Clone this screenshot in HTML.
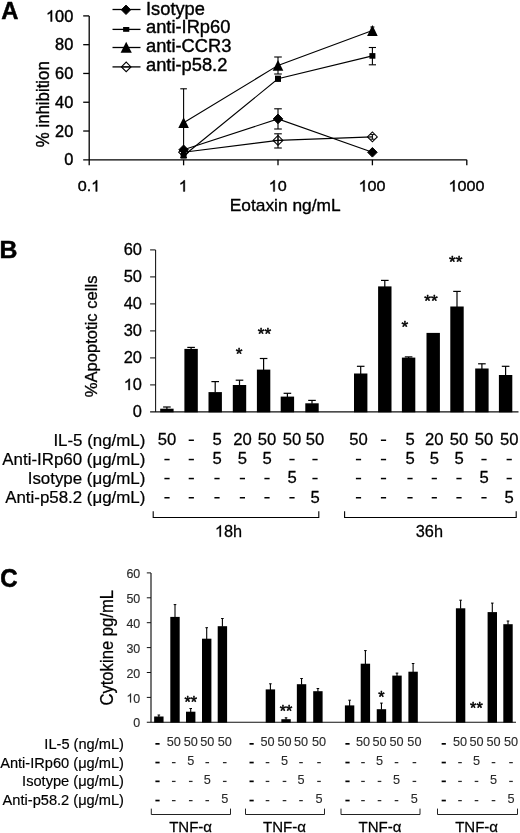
<!DOCTYPE html>
<html>
<head>
<meta charset="utf-8">
<title>Figure</title>
<style>
html, body { margin: 0; padding: 0; background: #ffffff; }
body { width: 520px; height: 833px; overflow: hidden; font-family: 'Liberation Sans', sans-serif; }
svg { display: block; will-change: transform; }
svg text { font-family: "Liberation Sans", sans-serif; }
</style>
</head>
<body>
<svg width="520" height="833" viewBox="0 0 520 833">
<rect x="0" y="0" width="520" height="833" fill="#ffffff"/>
<text transform="translate(1.15,19.35) scale(0.975,1)" font-size="24.4" text-anchor="start" font-weight="bold" fill="#000" stroke="#000" stroke-width="0.5" stroke-linejoin="round" >A</text>
<line x1="89.2" y1="15.9" x2="89.2" y2="165.3" stroke="#000" stroke-width="1.3" />
<line x1="83.2" y1="159.8" x2="466.8" y2="159.8" stroke="#000" stroke-width="1.3" />
<line x1="83.2" y1="131.02" x2="89.2" y2="131.02" stroke="#000" stroke-width="1.3" />
<line x1="83.2" y1="102.24" x2="89.2" y2="102.24" stroke="#000" stroke-width="1.3" />
<line x1="83.2" y1="73.46" x2="89.2" y2="73.46" stroke="#000" stroke-width="1.3" />
<line x1="83.2" y1="44.68" x2="89.2" y2="44.68" stroke="#000" stroke-width="1.3" />
<line x1="83.2" y1="15.9" x2="89.2" y2="15.9" stroke="#000" stroke-width="1.3" />
<line x1="183.6" y1="159.8" x2="183.6" y2="165.3" stroke="#000" stroke-width="1.3" />
<line x1="278.0" y1="159.8" x2="278.0" y2="165.3" stroke="#000" stroke-width="1.3" />
<line x1="372.4" y1="159.8" x2="372.4" y2="165.3" stroke="#000" stroke-width="1.3" />
<line x1="466.8" y1="159.8" x2="466.8" y2="165.3" stroke="#000" stroke-width="1.3" />
<text transform="translate(73.3,165.4) scale(1.05,1)" font-size="15.6" text-anchor="end" font-weight="normal" fill="#000" stroke="#000" stroke-width="0.4" stroke-linejoin="round" >0</text>
<text transform="translate(73.3,136.62) scale(1.05,1)" font-size="15.6" text-anchor="end" font-weight="normal" fill="#000" stroke="#000" stroke-width="0.4" stroke-linejoin="round" >20</text>
<text transform="translate(73.3,107.83999999999999) scale(1.05,1)" font-size="15.6" text-anchor="end" font-weight="normal" fill="#000" stroke="#000" stroke-width="0.4" stroke-linejoin="round" >40</text>
<text transform="translate(73.3,79.05999999999999) scale(1.05,1)" font-size="15.6" text-anchor="end" font-weight="normal" fill="#000" stroke="#000" stroke-width="0.4" stroke-linejoin="round" >60</text>
<text transform="translate(73.3,50.28) scale(1.05,1)" font-size="15.6" text-anchor="end" font-weight="normal" fill="#000" stroke="#000" stroke-width="0.4" stroke-linejoin="round" >80</text>
<path transform="translate(45.98,21.5) scale(0.007998,-0.007617)" d="M763 0H583V1147Q518 1085 412.5 1023Q307 961 223 930V1104Q374 1175 487 1276Q600 1377 647 1472H763Z" fill="#000" stroke="#000" stroke-width="52.5" stroke-linejoin="round"/>
<text transform="translate(55.09,21.5) scale(1.05,1)" font-size="15.6" text-anchor="start" font-weight="normal" fill="#000" stroke="#000" stroke-width="0.4" stroke-linejoin="round" >00</text>
<text transform="translate(77.66,191.4) scale(1.05,1)" font-size="15.4" text-anchor="start" font-weight="normal" fill="#000" stroke="#000" stroke-width="0.4" stroke-linejoin="round" >0.</text>
<path transform="translate(91.15,191.4) scale(0.007896,-0.00752)" d="M763 0H583V1147Q518 1085 412.5 1023Q307 961 223 930V1104Q374 1175 487 1276Q600 1377 647 1472H763Z" fill="#000" stroke="#000" stroke-width="53.2" stroke-linejoin="round"/>
<path transform="translate(178.8,191.4) scale(0.007896,-0.00752)" d="M763 0H583V1147Q518 1085 412.5 1023Q307 961 223 930V1104Q374 1175 487 1276Q600 1377 647 1472H763Z" fill="#000" stroke="#000" stroke-width="53.2" stroke-linejoin="round"/>
<path transform="translate(268.71,191.4) scale(0.007896,-0.00752)" d="M763 0H583V1147Q518 1085 412.5 1023Q307 961 223 930V1104Q374 1175 487 1276Q600 1377 647 1472H763Z" fill="#000" stroke="#000" stroke-width="53.2" stroke-linejoin="round"/>
<text transform="translate(277.7,191.4) scale(1.05,1)" font-size="15.4" text-anchor="start" font-weight="normal" fill="#000" stroke="#000" stroke-width="0.4" stroke-linejoin="round" >0</text>
<path transform="translate(358.61,191.4) scale(0.007896,-0.00752)" d="M763 0H583V1147Q518 1085 412.5 1023Q307 961 223 930V1104Q374 1175 487 1276Q600 1377 647 1472H763Z" fill="#000" stroke="#000" stroke-width="53.2" stroke-linejoin="round"/>
<text transform="translate(367.6,191.4) scale(1.05,1)" font-size="15.4" text-anchor="start" font-weight="normal" fill="#000" stroke="#000" stroke-width="0.4" stroke-linejoin="round" >00</text>
<path transform="translate(448.52,191.4) scale(0.007896,-0.00752)" d="M763 0H583V1147Q518 1085 412.5 1023Q307 961 223 930V1104Q374 1175 487 1276Q600 1377 647 1472H763Z" fill="#000" stroke="#000" stroke-width="53.2" stroke-linejoin="round"/>
<text transform="translate(457.51,191.4) scale(1.05,1)" font-size="15.4" text-anchor="start" font-weight="normal" fill="#000" stroke="#000" stroke-width="0.4" stroke-linejoin="round" >000</text>
<text transform="translate(285.2,211.2) scale(1.02,1)" font-size="17" text-anchor="middle" font-weight="normal" fill="#000" stroke="#000" stroke-width="0.35" stroke-linejoin="round" >Eotaxin ng/mL</text>
<text transform="translate(48.8,104.2) rotate(-90) scale(1,1.06)" font-size="16.8" text-anchor="middle" fill="#000" stroke="#000" stroke-width="0.35" stroke-linejoin="round">% inhibition</text>
<line x1="112.5" y1="9.5" x2="140.5" y2="9.5" stroke="#000" stroke-width="1.3" />
<text x="146.0" y="14.6" font-size="18.3" text-anchor="start" font-weight="normal" fill="#000" stroke="#000" stroke-width="0.4" stroke-linejoin="round" >Isotype</text>
<line x1="112.5" y1="29.4" x2="140.5" y2="29.4" stroke="#000" stroke-width="1.3" />
<text x="146.0" y="33.4" font-size="18.3" text-anchor="start" font-weight="normal" fill="#000" stroke="#000" stroke-width="0.4" stroke-linejoin="round" >anti-IRp60</text>
<line x1="112.5" y1="47.5" x2="140.5" y2="47.5" stroke="#000" stroke-width="1.3" />
<text x="146.0" y="52.3" font-size="18.3" text-anchor="start" font-weight="normal" fill="#000" stroke="#000" stroke-width="0.4" stroke-linejoin="round" >anti-CCR3</text>
<line x1="112.5" y1="66.9" x2="140.5" y2="66.9" stroke="#000" stroke-width="1.3" />
<text x="146.0" y="71.0" font-size="18.3" text-anchor="start" font-weight="normal" fill="#000" stroke="#000" stroke-width="0.4" stroke-linejoin="round" >anti-p58.2</text>
<polygon points="121.3,9.8 126.0,5.1000000000000005 130.7,9.8 126.0,14.5" fill="#000" stroke="#000" stroke-width="1"/>
<rect x="123.10000000000001" y="27.0" width="6.2" height="4.8" fill="#000"/>
<polygon points="120.60000000000001,52.8 131.8,52.8 126.2,41.8" fill="#000"/>
<polygon points="121.4,66.9 126.2,62.10000000000001 131.0,66.9 126.2,71.7" fill="none" stroke="#000" stroke-width="1.05"/>
<line x1="121.7" y1="66.9" x2="130.7" y2="66.9" stroke="#000" stroke-width="1.0" />
<line x1="183.6" y1="88.8" x2="183.6" y2="157.5" stroke="#000" stroke-width="1.1" />
<line x1="180.29999999999998" y1="88.8" x2="186.9" y2="88.8" stroke="#000" stroke-width="1.1" />
<line x1="180.29999999999998" y1="157.5" x2="186.9" y2="157.5" stroke="#000" stroke-width="1.1" />
<line x1="278.0" y1="57.0" x2="278.0" y2="74.0" stroke="#000" stroke-width="1.1" />
<line x1="274.2" y1="57.0" x2="281.8" y2="57.0" stroke="#000" stroke-width="1.1" />
<line x1="274.2" y1="74.0" x2="281.8" y2="74.0" stroke="#000" stroke-width="1.1" />
<line x1="278.0" y1="76.2" x2="278.0" y2="81.2" stroke="#000" stroke-width="1.1" />
<line x1="275.0" y1="76.2" x2="281.0" y2="76.2" stroke="#000" stroke-width="1.1" />
<line x1="275.0" y1="81.2" x2="281.0" y2="81.2" stroke="#000" stroke-width="1.1" />
<line x1="372.4" y1="47.5" x2="372.4" y2="64.8" stroke="#000" stroke-width="1.1" />
<line x1="368.79999999999995" y1="47.5" x2="376.0" y2="47.5" stroke="#000" stroke-width="1.1" />
<line x1="368.79999999999995" y1="64.8" x2="376.0" y2="64.8" stroke="#000" stroke-width="1.1" />
<line x1="278.0" y1="108.8" x2="278.0" y2="129.0" stroke="#000" stroke-width="1.1" />
<line x1="274.2" y1="108.8" x2="281.8" y2="108.8" stroke="#000" stroke-width="1.1" />
<line x1="274.2" y1="129.0" x2="281.8" y2="129.0" stroke="#000" stroke-width="1.1" />
<line x1="278.0" y1="133.8" x2="278.0" y2="148.0" stroke="#000" stroke-width="1.1" />
<line x1="274.2" y1="133.8" x2="281.8" y2="133.8" stroke="#000" stroke-width="1.1" />
<line x1="274.2" y1="148.0" x2="281.8" y2="148.0" stroke="#000" stroke-width="1.1" />
<line x1="372.4" y1="27.0" x2="372.4" y2="34.0" stroke="#000" stroke-width="1.1" />
<line x1="370.4" y1="27.0" x2="374.4" y2="27.0" stroke="#000" stroke-width="1.1" />
<line x1="370.4" y1="34.0" x2="374.4" y2="34.0" stroke="#000" stroke-width="1.1" />
<polyline points="183.6,122.8 278.0,65.4 372.4,30.6" fill="none" stroke="#000" stroke-width="1.1"/>
<polyline points="183.6,155.8 278.0,78.8 372.4,55.9" fill="none" stroke="#000" stroke-width="1.1"/>
<polyline points="183.6,149.8 278.0,118.9 372.4,152.3" fill="none" stroke="#000" stroke-width="1.1"/>
<polyline points="183.6,152.2 278.0,140.4 372.4,136.9" fill="none" stroke="#000" stroke-width="1.1"/>
<polygon points="178.7,152.2 183.6,147.29999999999998 188.5,152.2 183.6,157.1" fill="none" stroke="#000" stroke-width="1.05"/>
<polygon points="273.1,140.4 278.0,135.5 282.9,140.4 278.0,145.3" fill="none" stroke="#000" stroke-width="1.05"/>
<polygon points="367.5,136.9 372.4,132.0 377.29999999999995,136.9 372.4,141.8" fill="none" stroke="#000" stroke-width="1.05"/>
<line x1="370.2" y1="134.6" x2="374.59999999999997" y2="134.6" stroke="#000" stroke-width="1.0" />
<line x1="370.2" y1="139.2" x2="374.59999999999997" y2="139.2" stroke="#000" stroke-width="1.0" />
<line x1="372.4" y1="134.6" x2="372.4" y2="139.2" stroke="#000" stroke-width="1.0" />
<line x1="278.0" y1="135.6" x2="278.0" y2="145.2" stroke="#000" stroke-width="1.0" />
<line x1="273.5" y1="140.4" x2="282.5" y2="140.4" stroke="#000" stroke-width="1.0" />
<polygon points="178.79999999999998,149.8 183.6,145.0 188.4,149.8 183.6,154.60000000000002" fill="#000" stroke="#000" stroke-width="1"/>
<polygon points="273.2,118.9 278.0,114.10000000000001 282.8,118.9 278.0,123.7" fill="#000" stroke="#000" stroke-width="1"/>
<polygon points="367.59999999999997,152.3 372.4,147.5 377.2,152.3 372.4,157.10000000000002" fill="#000" stroke="#000" stroke-width="1"/>
<rect x="180.6" y="153.0" width="6.0" height="5.6" fill="#000"/>
<rect x="275.0" y="76.0" width="6.0" height="5.6" fill="#000"/>
<rect x="369.4" y="53.1" width="6.0" height="5.6" fill="#000"/>
<polygon points="178.29999999999998,128.1 188.9,128.1 183.6,117.3" fill="#000"/>
<polygon points="272.7,70.70000000000002 283.3,70.70000000000002 278.0,59.90000000000001" fill="#000"/>
<polygon points="367.09999999999997,35.9 377.7,35.9 372.4,25.1" fill="#000"/>
<text x="-0.5" y="257.85" font-size="24.8" text-anchor="start" font-weight="bold" fill="#000" stroke="#000" stroke-width="0.5" stroke-linejoin="round" >B</text>
<line x1="155.6" y1="249.9" x2="155.6" y2="411.9" stroke="#111" stroke-width="1.05" />
<line x1="150.1" y1="411.9" x2="518.5" y2="411.9" stroke="#111" stroke-width="1.15" />
<line x1="150.1" y1="384.9" x2="155.6" y2="384.9" stroke="#111" stroke-width="1.05" />
<line x1="150.1" y1="357.9" x2="155.6" y2="357.9" stroke="#111" stroke-width="1.05" />
<line x1="150.1" y1="330.9" x2="155.6" y2="330.9" stroke="#111" stroke-width="1.05" />
<line x1="150.1" y1="303.9" x2="155.6" y2="303.9" stroke="#111" stroke-width="1.05" />
<line x1="150.1" y1="276.9" x2="155.6" y2="276.9" stroke="#111" stroke-width="1.05" />
<line x1="150.1" y1="249.9" x2="155.6" y2="249.9" stroke="#111" stroke-width="1.05" />
<text transform="translate(142.0,417.09999999999997) scale(1.04,1)" font-size="15.8" text-anchor="end" font-weight="normal" fill="#000" stroke="#000" stroke-width="0.3" stroke-linejoin="round" >0</text>
<path transform="translate(123.73,390.09999999999997) scale(0.008023,-0.007715)" d="M763 0H583V1147Q518 1085 412.5 1023Q307 961 223 930V1104Q374 1175 487 1276Q600 1377 647 1472H763Z" fill="#000" stroke="#000" stroke-width="38.9" stroke-linejoin="round"/>
<text transform="translate(132.86,390.09999999999997) scale(1.04,1)" font-size="15.8" text-anchor="start" font-weight="normal" fill="#000" stroke="#000" stroke-width="0.3" stroke-linejoin="round" >0</text>
<text transform="translate(142.0,363.09999999999997) scale(1.04,1)" font-size="15.8" text-anchor="end" font-weight="normal" fill="#000" stroke="#000" stroke-width="0.3" stroke-linejoin="round" >20</text>
<text transform="translate(142.0,336.09999999999997) scale(1.04,1)" font-size="15.8" text-anchor="end" font-weight="normal" fill="#000" stroke="#000" stroke-width="0.3" stroke-linejoin="round" >30</text>
<text transform="translate(142.0,309.09999999999997) scale(1.04,1)" font-size="15.8" text-anchor="end" font-weight="normal" fill="#000" stroke="#000" stroke-width="0.3" stroke-linejoin="round" >40</text>
<text transform="translate(142.0,282.09999999999997) scale(1.04,1)" font-size="15.8" text-anchor="end" font-weight="normal" fill="#000" stroke="#000" stroke-width="0.3" stroke-linejoin="round" >50</text>
<text transform="translate(142.0,255.1) scale(1.04,1)" font-size="15.8" text-anchor="end" font-weight="normal" fill="#000" stroke="#000" stroke-width="0.3" stroke-linejoin="round" >60</text>
<text transform="translate(97.3,336.4) rotate(-90) scale(1,1.04)" font-size="16.6" text-anchor="middle" fill="#000" stroke="#000" stroke-width="0.3" stroke-linejoin="round">%Apoptotic cells</text>
<rect x="160.2" y="408.7" width="13.4" height="3.6" fill="#000"/>
<line x1="166.9" y1="407.0" x2="166.9" y2="409.2" stroke="#000" stroke-width="1.2" />
<line x1="163.1" y1="407.0" x2="170.70000000000002" y2="407.0" stroke="#000" stroke-width="1.2" />
<rect x="184.4" y="348.9" width="13.4" height="63.4" fill="#000"/>
<line x1="191.1" y1="347.4" x2="191.1" y2="349.4" stroke="#000" stroke-width="1.2" />
<line x1="187.29999999999998" y1="347.4" x2="194.9" y2="347.4" stroke="#000" stroke-width="1.2" />
<rect x="208.5" y="392.1" width="13.4" height="20.2" fill="#000"/>
<line x1="215.2" y1="381.6" x2="215.2" y2="392.6" stroke="#000" stroke-width="1.2" />
<line x1="211.39999999999998" y1="381.6" x2="219.0" y2="381.6" stroke="#000" stroke-width="1.2" />
<rect x="232.8" y="385.0" width="13.4" height="27.3" fill="#000"/>
<line x1="239.5" y1="380.2" x2="239.5" y2="385.5" stroke="#000" stroke-width="1.2" />
<line x1="235.7" y1="380.2" x2="243.3" y2="380.2" stroke="#000" stroke-width="1.2" />
<rect x="256.9" y="369.6" width="13.4" height="42.7" fill="#000"/>
<line x1="263.6" y1="358.5" x2="263.6" y2="370.1" stroke="#000" stroke-width="1.2" />
<line x1="259.8" y1="358.5" x2="267.40000000000003" y2="358.5" stroke="#000" stroke-width="1.2" />
<rect x="280.7" y="396.6" width="13.4" height="15.7" fill="#000"/>
<line x1="287.4" y1="393.3" x2="287.4" y2="397.1" stroke="#000" stroke-width="1.2" />
<line x1="283.59999999999997" y1="393.3" x2="291.2" y2="393.3" stroke="#000" stroke-width="1.2" />
<rect x="305.3" y="403.3" width="13.4" height="9.0" fill="#000"/>
<line x1="312.0" y1="400.4" x2="312.0" y2="403.8" stroke="#000" stroke-width="1.2" />
<line x1="308.2" y1="400.4" x2="315.8" y2="400.4" stroke="#000" stroke-width="1.2" />
<rect x="354.0" y="373.5" width="13.4" height="38.8" fill="#000"/>
<line x1="360.7" y1="366.3" x2="360.7" y2="374.0" stroke="#000" stroke-width="1.2" />
<line x1="356.9" y1="366.3" x2="364.5" y2="366.3" stroke="#000" stroke-width="1.2" />
<rect x="378.1" y="286.4" width="13.4" height="125.9" fill="#000"/>
<line x1="384.8" y1="280.4" x2="384.8" y2="286.9" stroke="#000" stroke-width="1.2" />
<line x1="381.0" y1="280.4" x2="388.6" y2="280.4" stroke="#000" stroke-width="1.2" />
<rect x="401.9" y="357.6" width="13.4" height="54.7" fill="#000"/>
<line x1="408.6" y1="356.9" x2="408.6" y2="358.1" stroke="#000" stroke-width="1.2" />
<line x1="404.8" y1="356.9" x2="412.40000000000003" y2="356.9" stroke="#000" stroke-width="1.2" />
<rect x="426.5" y="332.9" width="13.4" height="79.4" fill="#000"/>
<rect x="450.3" y="306.5" width="13.4" height="105.8" fill="#000"/>
<line x1="457.0" y1="291.4" x2="457.0" y2="307.0" stroke="#000" stroke-width="1.2" />
<line x1="453.2" y1="291.4" x2="460.8" y2="291.4" stroke="#000" stroke-width="1.2" />
<rect x="475.2" y="368.5" width="13.4" height="43.8" fill="#000"/>
<line x1="481.9" y1="363.8" x2="481.9" y2="369.0" stroke="#000" stroke-width="1.2" />
<line x1="478.09999999999997" y1="363.8" x2="485.7" y2="363.8" stroke="#000" stroke-width="1.2" />
<rect x="498.9" y="375.0" width="13.4" height="37.3" fill="#000"/>
<line x1="505.6" y1="366.3" x2="505.6" y2="375.5" stroke="#000" stroke-width="1.2" />
<line x1="501.8" y1="366.3" x2="509.40000000000003" y2="366.3" stroke="#000" stroke-width="1.2" />
<text x="239.2" y="360.02" font-size="17.2" text-anchor="middle" font-weight="normal" fill="#000" stroke="#000" stroke-width="0.5" stroke-linejoin="round" >*</text>
<text x="264.4" y="340.42" font-size="17.2" text-anchor="middle" font-weight="normal" fill="#000" stroke="#000" stroke-width="0.5" stroke-linejoin="round" >**</text>
<text x="404.8" y="332.72" font-size="17.2" text-anchor="middle" font-weight="normal" fill="#000" stroke="#000" stroke-width="0.5" stroke-linejoin="round" >*</text>
<text x="430.9" y="307.42" font-size="17.2" text-anchor="middle" font-weight="normal" fill="#000" stroke="#000" stroke-width="0.5" stroke-linejoin="round" >**</text>
<text x="455.7" y="267.92" font-size="17.2" text-anchor="middle" font-weight="normal" fill="#000" stroke="#000" stroke-width="0.5" stroke-linejoin="round" >**</text>
<text transform="translate(145.4,445.6) scale(1.025,1)" font-size="16.5" text-anchor="end" font-weight="normal" fill="#000" stroke="#000" stroke-width="0.22" stroke-linejoin="round" >IL-5 (ng/mL)</text>
<text transform="translate(145.4,464.9) scale(1.025,1)" font-size="16.5" text-anchor="end" font-weight="normal" fill="#000" stroke="#000" stroke-width="0.22" stroke-linejoin="round" >Anti-IRp60 (&#956;g/mL)</text>
<text transform="translate(145.4,483.9) scale(1.025,1)" font-size="16.5" text-anchor="end" font-weight="normal" fill="#000" stroke="#000" stroke-width="0.22" stroke-linejoin="round" >Isotype (&#956;g/mL)</text>
<text transform="translate(145.4,503.0) scale(1.025,1)" font-size="16.5" text-anchor="end" font-weight="normal" fill="#000" stroke="#000" stroke-width="0.22" stroke-linejoin="round" >Anti-p58.2 (&#956;g/mL)</text>
<text transform="translate(167,445.1) scale(1.04,1)" font-size="16" text-anchor="middle" font-weight="normal" fill="#000" stroke="#000" stroke-width="0.25" stroke-linejoin="round" >50</text>
<rect x="188.7" y="439.5" width="5.2" height="1.5" fill="#000"/>
<text transform="translate(217,445.1) scale(1.04,1)" font-size="16" text-anchor="middle" font-weight="normal" fill="#000" stroke="#000" stroke-width="0.25" stroke-linejoin="round" >5</text>
<text transform="translate(242.4,445.1) scale(1.04,1)" font-size="16" text-anchor="middle" font-weight="normal" fill="#000" stroke="#000" stroke-width="0.25" stroke-linejoin="round" >20</text>
<text transform="translate(267,445.1) scale(1.04,1)" font-size="16" text-anchor="middle" font-weight="normal" fill="#000" stroke="#000" stroke-width="0.25" stroke-linejoin="round" >50</text>
<text transform="translate(292,445.1) scale(1.04,1)" font-size="16" text-anchor="middle" font-weight="normal" fill="#000" stroke="#000" stroke-width="0.25" stroke-linejoin="round" >50</text>
<text transform="translate(315,445.1) scale(1.04,1)" font-size="16" text-anchor="middle" font-weight="normal" fill="#000" stroke="#000" stroke-width="0.25" stroke-linejoin="round" >50</text>
<rect x="164.4" y="458.8" width="5.2" height="1.5" fill="#000"/>
<rect x="188.7" y="458.8" width="5.2" height="1.5" fill="#000"/>
<text transform="translate(217,464.4) scale(1.04,1)" font-size="16" text-anchor="middle" font-weight="normal" fill="#000" stroke="#000" stroke-width="0.25" stroke-linejoin="round" >5</text>
<text transform="translate(242.4,464.4) scale(1.04,1)" font-size="16" text-anchor="middle" font-weight="normal" fill="#000" stroke="#000" stroke-width="0.25" stroke-linejoin="round" >5</text>
<text transform="translate(267,464.4) scale(1.04,1)" font-size="16" text-anchor="middle" font-weight="normal" fill="#000" stroke="#000" stroke-width="0.25" stroke-linejoin="round" >5</text>
<rect x="289.4" y="458.8" width="5.2" height="1.5" fill="#000"/>
<rect x="312.4" y="458.8" width="5.2" height="1.5" fill="#000"/>
<rect x="164.4" y="477.8" width="5.2" height="1.5" fill="#000"/>
<rect x="188.7" y="477.8" width="5.2" height="1.5" fill="#000"/>
<rect x="214.4" y="477.8" width="5.2" height="1.5" fill="#000"/>
<rect x="239.8" y="477.8" width="5.2" height="1.5" fill="#000"/>
<rect x="264.4" y="477.8" width="5.2" height="1.5" fill="#000"/>
<text transform="translate(292,483.4) scale(1.04,1)" font-size="16" text-anchor="middle" font-weight="normal" fill="#000" stroke="#000" stroke-width="0.25" stroke-linejoin="round" >5</text>
<rect x="312.4" y="477.8" width="5.2" height="1.5" fill="#000"/>
<rect x="164.4" y="497.0" width="5.2" height="1.5" fill="#000"/>
<rect x="188.7" y="497.0" width="5.2" height="1.5" fill="#000"/>
<rect x="214.4" y="497.0" width="5.2" height="1.5" fill="#000"/>
<rect x="239.8" y="497.0" width="5.2" height="1.5" fill="#000"/>
<rect x="264.4" y="497.0" width="5.2" height="1.5" fill="#000"/>
<rect x="289.4" y="497.0" width="5.2" height="1.5" fill="#000"/>
<text transform="translate(315,502.6) scale(1.04,1)" font-size="16" text-anchor="middle" font-weight="normal" fill="#000" stroke="#000" stroke-width="0.25" stroke-linejoin="round" >5</text>
<text transform="translate(358.5,445.1) scale(1.04,1)" font-size="16" text-anchor="middle" font-weight="normal" fill="#000" stroke="#000" stroke-width="0.25" stroke-linejoin="round" >50</text>
<rect x="380.9" y="439.5" width="5.2" height="1.5" fill="#000"/>
<text transform="translate(410,445.1) scale(1.04,1)" font-size="16" text-anchor="middle" font-weight="normal" fill="#000" stroke="#000" stroke-width="0.25" stroke-linejoin="round" >5</text>
<text transform="translate(434.3,445.1) scale(1.04,1)" font-size="16" text-anchor="middle" font-weight="normal" fill="#000" stroke="#000" stroke-width="0.25" stroke-linejoin="round" >20</text>
<text transform="translate(459,445.1) scale(1.04,1)" font-size="16" text-anchor="middle" font-weight="normal" fill="#000" stroke="#000" stroke-width="0.25" stroke-linejoin="round" >50</text>
<text transform="translate(484,445.1) scale(1.04,1)" font-size="16" text-anchor="middle" font-weight="normal" fill="#000" stroke="#000" stroke-width="0.25" stroke-linejoin="round" >50</text>
<text transform="translate(509.2,445.1) scale(1.04,1)" font-size="16" text-anchor="middle" font-weight="normal" fill="#000" stroke="#000" stroke-width="0.25" stroke-linejoin="round" >50</text>
<rect x="355.9" y="458.8" width="5.2" height="1.5" fill="#000"/>
<rect x="380.9" y="458.8" width="5.2" height="1.5" fill="#000"/>
<text transform="translate(410,464.4) scale(1.04,1)" font-size="16" text-anchor="middle" font-weight="normal" fill="#000" stroke="#000" stroke-width="0.25" stroke-linejoin="round" >5</text>
<text transform="translate(434.3,464.4) scale(1.04,1)" font-size="16" text-anchor="middle" font-weight="normal" fill="#000" stroke="#000" stroke-width="0.25" stroke-linejoin="round" >5</text>
<text transform="translate(459,464.4) scale(1.04,1)" font-size="16" text-anchor="middle" font-weight="normal" fill="#000" stroke="#000" stroke-width="0.25" stroke-linejoin="round" >5</text>
<rect x="481.4" y="458.8" width="5.2" height="1.5" fill="#000"/>
<rect x="506.6" y="458.8" width="5.2" height="1.5" fill="#000"/>
<rect x="355.9" y="477.8" width="5.2" height="1.5" fill="#000"/>
<rect x="380.9" y="477.8" width="5.2" height="1.5" fill="#000"/>
<rect x="407.4" y="477.8" width="5.2" height="1.5" fill="#000"/>
<rect x="431.7" y="477.8" width="5.2" height="1.5" fill="#000"/>
<rect x="456.4" y="477.8" width="5.2" height="1.5" fill="#000"/>
<text transform="translate(484,483.4) scale(1.04,1)" font-size="16" text-anchor="middle" font-weight="normal" fill="#000" stroke="#000" stroke-width="0.25" stroke-linejoin="round" >5</text>
<rect x="506.6" y="477.8" width="5.2" height="1.5" fill="#000"/>
<rect x="355.9" y="497.0" width="5.2" height="1.5" fill="#000"/>
<rect x="380.9" y="497.0" width="5.2" height="1.5" fill="#000"/>
<rect x="407.4" y="497.0" width="5.2" height="1.5" fill="#000"/>
<rect x="431.7" y="497.0" width="5.2" height="1.5" fill="#000"/>
<rect x="456.4" y="497.0" width="5.2" height="1.5" fill="#000"/>
<rect x="481.4" y="497.0" width="5.2" height="1.5" fill="#000"/>
<text transform="translate(509.2,502.6) scale(1.04,1)" font-size="16" text-anchor="middle" font-weight="normal" fill="#000" stroke="#000" stroke-width="0.25" stroke-linejoin="round" >5</text>
<polyline points="153.2,511.2 153.2,517.5 318.8,517.5 318.8,511.2" fill="none" stroke="#000" stroke-width="1.1"/>
<polyline points="344.6,511.2 344.6,517.5 516.2,517.5 516.2,511.2" fill="none" stroke="#000" stroke-width="1.1"/>
<path transform="translate(214.89,536.8) scale(0.007969,-0.007812)" d="M763 0H583V1147Q518 1085 412.5 1023Q307 961 223 930V1104Q374 1175 487 1276Q600 1377 647 1472H763Z" fill="#000" stroke="#000" stroke-width="32.0" stroke-linejoin="round"/>
<text transform="translate(223.96,536.8) scale(1.02,1)" font-size="16" text-anchor="start" font-weight="normal" fill="#000" stroke="#000" stroke-width="0.25" stroke-linejoin="round" >8h</text>
<text transform="translate(429.4,536.8) scale(1.02,1)" font-size="16" text-anchor="middle" font-weight="normal" fill="#000" stroke="#000" stroke-width="0.25" stroke-linejoin="round" >36h</text>
<text transform="translate(0.2,587.3) scale(0.925,1)" font-size="26" text-anchor="start" font-weight="bold" fill="#000" stroke="#000" stroke-width="0.6" stroke-linejoin="round" >C</text>
<line x1="151.0" y1="572.9" x2="151.0" y2="722.3" stroke="#111" stroke-width="1.15" />
<line x1="146.8" y1="722.3" x2="516" y2="722.3" stroke="#111" stroke-width="1.1" />
<line x1="146.8" y1="697.4" x2="151.0" y2="697.4" stroke="#111" stroke-width="1.0" />
<line x1="146.8" y1="672.5" x2="151.0" y2="672.5" stroke="#111" stroke-width="1.0" />
<line x1="146.8" y1="647.6" x2="151.0" y2="647.6" stroke="#111" stroke-width="1.0" />
<line x1="146.8" y1="622.7" x2="151.0" y2="622.7" stroke="#111" stroke-width="1.0" />
<line x1="146.8" y1="597.8" x2="151.0" y2="597.8" stroke="#111" stroke-width="1.0" />
<line x1="146.8" y1="572.9" x2="151.0" y2="572.9" stroke="#111" stroke-width="1.0" />
<text transform="translate(140.3,727.4) scale(0.99,1)" font-size="12.6" text-anchor="end" font-weight="normal" fill="#2a2a2a" stroke="#2a2a2a" stroke-width="0.15" stroke-linejoin="round" >0</text>
<path transform="translate(126.43,702.5) scale(0.006091,-0.006152)" d="M763 0H583V1147Q518 1085 412.5 1023Q307 961 223 930V1104Q374 1175 487 1276Q600 1377 647 1472H763Z" fill="#2a2a2a" stroke="#2a2a2a" stroke-width="24.4" stroke-linejoin="round"/>
<text transform="translate(133.36,702.5) scale(0.99,1)" font-size="12.6" text-anchor="start" font-weight="normal" fill="#2a2a2a" stroke="#2a2a2a" stroke-width="0.15" stroke-linejoin="round" >0</text>
<text transform="translate(140.3,677.6) scale(0.99,1)" font-size="12.6" text-anchor="end" font-weight="normal" fill="#2a2a2a" stroke="#2a2a2a" stroke-width="0.15" stroke-linejoin="round" >20</text>
<text transform="translate(140.3,652.7) scale(0.99,1)" font-size="12.6" text-anchor="end" font-weight="normal" fill="#2a2a2a" stroke="#2a2a2a" stroke-width="0.15" stroke-linejoin="round" >30</text>
<text transform="translate(140.3,627.8000000000001) scale(0.99,1)" font-size="12.6" text-anchor="end" font-weight="normal" fill="#2a2a2a" stroke="#2a2a2a" stroke-width="0.15" stroke-linejoin="round" >40</text>
<text transform="translate(140.3,602.9) scale(0.99,1)" font-size="12.6" text-anchor="end" font-weight="normal" fill="#2a2a2a" stroke="#2a2a2a" stroke-width="0.15" stroke-linejoin="round" >50</text>
<text transform="translate(140.3,578.0) scale(0.99,1)" font-size="12.6" text-anchor="end" font-weight="normal" fill="#2a2a2a" stroke="#2a2a2a" stroke-width="0.15" stroke-linejoin="round" >60</text>
<text transform="translate(113.0,647.8) rotate(-90) scale(1,1.05)" font-size="16.65" text-anchor="middle" fill="#000" stroke="#000" stroke-width="0.25" stroke-linejoin="round">Cytokine pg/mL</text>
<rect x="154.15" y="716.5" width="9.4" height="6.1" fill="#000"/>
<line x1="158.85" y1="715.0" x2="158.85" y2="717.0" stroke="#000" stroke-width="1.1" />
<line x1="157.54999999999998" y1="715.0" x2="160.15" y2="715.0" stroke="#000" stroke-width="1.0" />
<rect x="170.3" y="616.9" width="9.4" height="105.7" fill="#000"/>
<line x1="175.0" y1="604.6" x2="175.0" y2="617.4" stroke="#000" stroke-width="1.1" />
<line x1="173.7" y1="604.6" x2="176.3" y2="604.6" stroke="#000" stroke-width="1.0" />
<rect x="186.0" y="711.7" width="9.4" height="10.9" fill="#000"/>
<line x1="190.7" y1="708.5" x2="190.7" y2="712.2" stroke="#000" stroke-width="1.1" />
<line x1="189.39999999999998" y1="708.5" x2="192.0" y2="708.5" stroke="#000" stroke-width="1.0" />
<rect x="202.0" y="638.7" width="9.4" height="83.9" fill="#000"/>
<line x1="206.7" y1="627.7" x2="206.7" y2="639.2" stroke="#000" stroke-width="1.1" />
<line x1="205.39999999999998" y1="627.7" x2="208.0" y2="627.7" stroke="#000" stroke-width="1.0" />
<rect x="217.7" y="626.2" width="9.4" height="96.4" fill="#000"/>
<line x1="222.4" y1="618.5" x2="222.4" y2="626.7" stroke="#000" stroke-width="1.1" />
<line x1="221.1" y1="618.5" x2="223.70000000000002" y2="618.5" stroke="#000" stroke-width="1.0" />
<rect x="265.7" y="689.4" width="9.4" height="33.2" fill="#000"/>
<line x1="270.4" y1="683.8" x2="270.4" y2="689.9" stroke="#000" stroke-width="1.1" />
<line x1="269.09999999999997" y1="683.8" x2="271.7" y2="683.8" stroke="#000" stroke-width="1.0" />
<rect x="281.35" y="719.2" width="9.4" height="3.4" fill="#000"/>
<line x1="286.05" y1="717.8" x2="286.05" y2="719.7" stroke="#000" stroke-width="1.1" />
<line x1="284.75" y1="717.8" x2="287.35" y2="717.8" stroke="#000" stroke-width="1.0" />
<rect x="296.85" y="684.2" width="9.4" height="38.4" fill="#000"/>
<line x1="301.55" y1="678.5" x2="301.55" y2="684.7" stroke="#000" stroke-width="1.1" />
<line x1="300.25" y1="678.5" x2="302.85" y2="678.5" stroke="#000" stroke-width="1.0" />
<rect x="313.2" y="691.2" width="9.4" height="31.4" fill="#000"/>
<line x1="317.9" y1="688.5" x2="317.9" y2="691.7" stroke="#000" stroke-width="1.1" />
<line x1="316.59999999999997" y1="688.5" x2="319.2" y2="688.5" stroke="#000" stroke-width="1.0" />
<rect x="344.9" y="705.4" width="9.4" height="17.2" fill="#000"/>
<line x1="349.6" y1="700.2" x2="349.6" y2="705.9" stroke="#000" stroke-width="1.1" />
<line x1="348.3" y1="700.2" x2="350.90000000000003" y2="700.2" stroke="#000" stroke-width="1.0" />
<rect x="360.7" y="663.7" width="9.4" height="58.9" fill="#000"/>
<line x1="365.4" y1="650.6" x2="365.4" y2="664.2" stroke="#000" stroke-width="1.1" />
<line x1="364.09999999999997" y1="650.6" x2="366.7" y2="650.6" stroke="#000" stroke-width="1.0" />
<rect x="376.75" y="709.2" width="9.4" height="13.4" fill="#000"/>
<line x1="381.45" y1="703.1" x2="381.45" y2="709.7" stroke="#000" stroke-width="1.1" />
<line x1="380.15" y1="703.1" x2="382.75" y2="703.1" stroke="#000" stroke-width="1.0" />
<rect x="392.3" y="675.6" width="9.4" height="47.0" fill="#000"/>
<line x1="397.0" y1="673.1" x2="397.0" y2="676.1" stroke="#000" stroke-width="1.1" />
<line x1="395.7" y1="673.1" x2="398.3" y2="673.1" stroke="#000" stroke-width="1.0" />
<rect x="408.4" y="671.7" width="9.4" height="50.9" fill="#000"/>
<line x1="413.1" y1="663.5" x2="413.1" y2="672.2" stroke="#000" stroke-width="1.1" />
<line x1="411.8" y1="663.5" x2="414.40000000000003" y2="663.5" stroke="#000" stroke-width="1.0" />
<rect x="455.9" y="608.3" width="9.4" height="114.3" fill="#000"/>
<line x1="460.6" y1="600.2" x2="460.6" y2="608.8" stroke="#000" stroke-width="1.1" />
<line x1="459.3" y1="600.2" x2="461.90000000000003" y2="600.2" stroke="#000" stroke-width="1.0" />
<rect x="487.6" y="612.1" width="9.4" height="110.5" fill="#000"/>
<line x1="492.3" y1="603.1" x2="492.3" y2="612.6" stroke="#000" stroke-width="1.1" />
<line x1="491.0" y1="603.1" x2="493.6" y2="603.1" stroke="#000" stroke-width="1.0" />
<rect x="503.3" y="624.2" width="9.4" height="98.4" fill="#000"/>
<line x1="508.0" y1="621.0" x2="508.0" y2="624.7" stroke="#000" stroke-width="1.1" />
<line x1="506.7" y1="621.0" x2="509.3" y2="621.0" stroke="#000" stroke-width="1.0" />
<text x="190.7" y="708.19" font-size="16.2" text-anchor="middle" font-weight="normal" fill="#000" stroke="#000" stroke-width="0.5" stroke-linejoin="round" >**</text>
<text x="286.0" y="717.39" font-size="16.2" text-anchor="middle" font-weight="normal" fill="#000" stroke="#000" stroke-width="0.5" stroke-linejoin="round" >**</text>
<text x="381.5" y="702.99" font-size="16.2" text-anchor="middle" font-weight="normal" fill="#000" stroke="#000" stroke-width="0.5" stroke-linejoin="round" >*</text>
<text x="476.4" y="713.99" font-size="16.2" text-anchor="middle" font-weight="normal" fill="#000" stroke="#000" stroke-width="0.5" stroke-linejoin="round" >**</text>
<text transform="translate(124.0,749.1) scale(1.02,1)" font-size="14.35" text-anchor="end" font-weight="normal" fill="#000" stroke="#000" stroke-width="0.18" stroke-linejoin="round" >IL-5 (ng/mL)</text>
<text transform="translate(124.0,767.8) scale(1.02,1)" font-size="14.35" text-anchor="end" font-weight="normal" fill="#000" stroke="#000" stroke-width="0.18" stroke-linejoin="round" >Anti-IRp60 (&#956;g/mL)</text>
<text transform="translate(124.0,786.0) scale(1.02,1)" font-size="14.35" text-anchor="end" font-weight="normal" fill="#000" stroke="#000" stroke-width="0.18" stroke-linejoin="round" >Isotype (&#956;g/mL)</text>
<text transform="translate(124.0,804.9) scale(1.02,1)" font-size="14.35" text-anchor="end" font-weight="normal" fill="#000" stroke="#000" stroke-width="0.18" stroke-linejoin="round" >Anti-p58.2 (&#956;g/mL)</text>
<rect x="155.4" y="743.0" width="4.2" height="1.7" fill="#000"/>
<text x="173.75" y="746.3" font-size="12.7" text-anchor="middle" font-weight="normal" fill="#2a2a2a" stroke="#2a2a2a" stroke-width="0.12" stroke-linejoin="round" >50</text>
<text x="190.75" y="746.3" font-size="12.7" text-anchor="middle" font-weight="normal" fill="#2a2a2a" stroke="#2a2a2a" stroke-width="0.12" stroke-linejoin="round" >50</text>
<text x="207.25" y="746.3" font-size="12.7" text-anchor="middle" font-weight="normal" fill="#2a2a2a" stroke="#2a2a2a" stroke-width="0.12" stroke-linejoin="round" >50</text>
<text x="224.75" y="746.3" font-size="12.7" text-anchor="middle" font-weight="normal" fill="#2a2a2a" stroke="#2a2a2a" stroke-width="0.12" stroke-linejoin="round" >50</text>
<rect x="155.4" y="761.7" width="4.2" height="1.7" fill="#000"/>
<rect x="171.95" y="762.0" width="3.6" height="1.25" fill="#2a2a2a"/>
<text x="190.75" y="765.0" font-size="12.7" text-anchor="middle" font-weight="normal" fill="#2a2a2a" stroke="#2a2a2a" stroke-width="0.12" stroke-linejoin="round" >5</text>
<rect x="205.45" y="762.0" width="3.6" height="1.25" fill="#2a2a2a"/>
<rect x="222.95" y="762.0" width="3.6" height="1.25" fill="#2a2a2a"/>
<rect x="155.4" y="780.5" width="4.2" height="1.7" fill="#000"/>
<rect x="171.95" y="780.8" width="3.6" height="1.25" fill="#2a2a2a"/>
<rect x="188.95" y="780.8" width="3.6" height="1.25" fill="#2a2a2a"/>
<text x="207.25" y="783.8" font-size="12.7" text-anchor="middle" font-weight="normal" fill="#2a2a2a" stroke="#2a2a2a" stroke-width="0.12" stroke-linejoin="round" >5</text>
<rect x="222.95" y="780.8" width="3.6" height="1.25" fill="#2a2a2a"/>
<rect x="155.4" y="799.7" width="4.2" height="1.7" fill="#000"/>
<rect x="171.95" y="800.0" width="3.6" height="1.25" fill="#2a2a2a"/>
<rect x="188.95" y="800.0" width="3.6" height="1.25" fill="#2a2a2a"/>
<rect x="205.45" y="800.0" width="3.6" height="1.25" fill="#2a2a2a"/>
<text x="224.75" y="803.0" font-size="12.7" text-anchor="middle" font-weight="normal" fill="#2a2a2a" stroke="#2a2a2a" stroke-width="0.12" stroke-linejoin="round" >5</text>
<polyline points="151.3,808.6 151.3,814.5 230.5,814.5 230.5,808.6" fill="none" stroke="#222" stroke-width="1.0"/>
<text transform="translate(190.6,831.5) scale(1.03,1)" font-size="14.6" text-anchor="middle" font-weight="normal" fill="#000" stroke="#000" stroke-width="0.25" stroke-linejoin="round" >TNF-&#945;</text>
<rect x="249.5" y="743.0" width="4.2" height="1.7" fill="#000"/>
<text x="267.5" y="746.3" font-size="12.7" text-anchor="middle" font-weight="normal" fill="#2a2a2a" stroke="#2a2a2a" stroke-width="0.12" stroke-linejoin="round" >50</text>
<text x="284.5" y="746.3" font-size="12.7" text-anchor="middle" font-weight="normal" fill="#2a2a2a" stroke="#2a2a2a" stroke-width="0.12" stroke-linejoin="round" >50</text>
<text x="301.0" y="746.3" font-size="12.7" text-anchor="middle" font-weight="normal" fill="#2a2a2a" stroke="#2a2a2a" stroke-width="0.12" stroke-linejoin="round" >50</text>
<text x="319.0" y="746.3" font-size="12.7" text-anchor="middle" font-weight="normal" fill="#2a2a2a" stroke="#2a2a2a" stroke-width="0.12" stroke-linejoin="round" >50</text>
<rect x="249.5" y="761.7" width="4.2" height="1.7" fill="#000"/>
<rect x="265.7" y="762.0" width="3.6" height="1.25" fill="#2a2a2a"/>
<text x="284.5" y="765.0" font-size="12.7" text-anchor="middle" font-weight="normal" fill="#2a2a2a" stroke="#2a2a2a" stroke-width="0.12" stroke-linejoin="round" >5</text>
<rect x="299.2" y="762.0" width="3.6" height="1.25" fill="#2a2a2a"/>
<rect x="317.2" y="762.0" width="3.6" height="1.25" fill="#2a2a2a"/>
<rect x="249.5" y="780.5" width="4.2" height="1.7" fill="#000"/>
<rect x="265.7" y="780.8" width="3.6" height="1.25" fill="#2a2a2a"/>
<rect x="282.7" y="780.8" width="3.6" height="1.25" fill="#2a2a2a"/>
<text x="301.0" y="783.8" font-size="12.7" text-anchor="middle" font-weight="normal" fill="#2a2a2a" stroke="#2a2a2a" stroke-width="0.12" stroke-linejoin="round" >5</text>
<rect x="317.2" y="780.8" width="3.6" height="1.25" fill="#2a2a2a"/>
<rect x="249.5" y="799.7" width="4.2" height="1.7" fill="#000"/>
<rect x="265.7" y="800.0" width="3.6" height="1.25" fill="#2a2a2a"/>
<rect x="282.7" y="800.0" width="3.6" height="1.25" fill="#2a2a2a"/>
<rect x="299.2" y="800.0" width="3.6" height="1.25" fill="#2a2a2a"/>
<text x="319.0" y="803.0" font-size="12.7" text-anchor="middle" font-weight="normal" fill="#2a2a2a" stroke="#2a2a2a" stroke-width="0.12" stroke-linejoin="round" >5</text>
<polyline points="245.5,808.6 245.5,814.5 324.5,814.5 324.5,808.6" fill="none" stroke="#222" stroke-width="1.0"/>
<text transform="translate(284.4,831.5) scale(1.03,1)" font-size="14.6" text-anchor="middle" font-weight="normal" fill="#000" stroke="#000" stroke-width="0.25" stroke-linejoin="round" >TNF-&#945;</text>
<rect x="345.4" y="743.0" width="4.2" height="1.7" fill="#000"/>
<text x="363.0" y="746.3" font-size="12.7" text-anchor="middle" font-weight="normal" fill="#2a2a2a" stroke="#2a2a2a" stroke-width="0.12" stroke-linejoin="round" >50</text>
<text x="379.5" y="746.3" font-size="12.7" text-anchor="middle" font-weight="normal" fill="#2a2a2a" stroke="#2a2a2a" stroke-width="0.12" stroke-linejoin="round" >50</text>
<text x="396.5" y="746.3" font-size="12.7" text-anchor="middle" font-weight="normal" fill="#2a2a2a" stroke="#2a2a2a" stroke-width="0.12" stroke-linejoin="round" >50</text>
<text x="414.4" y="746.3" font-size="12.7" text-anchor="middle" font-weight="normal" fill="#2a2a2a" stroke="#2a2a2a" stroke-width="0.12" stroke-linejoin="round" >50</text>
<rect x="345.4" y="761.7" width="4.2" height="1.7" fill="#000"/>
<rect x="361.2" y="762.0" width="3.6" height="1.25" fill="#2a2a2a"/>
<text x="379.5" y="765.0" font-size="12.7" text-anchor="middle" font-weight="normal" fill="#2a2a2a" stroke="#2a2a2a" stroke-width="0.12" stroke-linejoin="round" >5</text>
<rect x="394.7" y="762.0" width="3.6" height="1.25" fill="#2a2a2a"/>
<rect x="412.6" y="762.0" width="3.6" height="1.25" fill="#2a2a2a"/>
<rect x="345.4" y="780.5" width="4.2" height="1.7" fill="#000"/>
<rect x="361.2" y="780.8" width="3.6" height="1.25" fill="#2a2a2a"/>
<rect x="377.7" y="780.8" width="3.6" height="1.25" fill="#2a2a2a"/>
<text x="396.5" y="783.8" font-size="12.7" text-anchor="middle" font-weight="normal" fill="#2a2a2a" stroke="#2a2a2a" stroke-width="0.12" stroke-linejoin="round" >5</text>
<rect x="412.6" y="780.8" width="3.6" height="1.25" fill="#2a2a2a"/>
<rect x="345.4" y="799.7" width="4.2" height="1.7" fill="#000"/>
<rect x="361.2" y="800.0" width="3.6" height="1.25" fill="#2a2a2a"/>
<rect x="377.7" y="800.0" width="3.6" height="1.25" fill="#2a2a2a"/>
<rect x="394.7" y="800.0" width="3.6" height="1.25" fill="#2a2a2a"/>
<text x="414.4" y="803.0" font-size="12.7" text-anchor="middle" font-weight="normal" fill="#2a2a2a" stroke="#2a2a2a" stroke-width="0.12" stroke-linejoin="round" >5</text>
<polyline points="341.0,808.6 341.0,814.5 420.0,814.5 420.0,808.6" fill="none" stroke="#222" stroke-width="1.0"/>
<text transform="translate(380.0,831.5) scale(1.03,1)" font-size="14.6" text-anchor="middle" font-weight="normal" fill="#000" stroke="#000" stroke-width="0.25" stroke-linejoin="round" >TNF-&#945;</text>
<rect x="441.65" y="743.0" width="4.2" height="1.7" fill="#000"/>
<text x="460.0" y="746.3" font-size="12.7" text-anchor="middle" font-weight="normal" fill="#2a2a2a" stroke="#2a2a2a" stroke-width="0.12" stroke-linejoin="round" >50</text>
<text x="476.5" y="746.3" font-size="12.7" text-anchor="middle" font-weight="normal" fill="#2a2a2a" stroke="#2a2a2a" stroke-width="0.12" stroke-linejoin="round" >50</text>
<text x="493.5" y="746.3" font-size="12.7" text-anchor="middle" font-weight="normal" fill="#2a2a2a" stroke="#2a2a2a" stroke-width="0.12" stroke-linejoin="round" >50</text>
<text x="511.0" y="746.3" font-size="12.7" text-anchor="middle" font-weight="normal" fill="#2a2a2a" stroke="#2a2a2a" stroke-width="0.12" stroke-linejoin="round" >50</text>
<rect x="441.65" y="761.7" width="4.2" height="1.7" fill="#000"/>
<rect x="458.2" y="762.0" width="3.6" height="1.25" fill="#2a2a2a"/>
<text x="476.5" y="765.0" font-size="12.7" text-anchor="middle" font-weight="normal" fill="#2a2a2a" stroke="#2a2a2a" stroke-width="0.12" stroke-linejoin="round" >5</text>
<rect x="491.7" y="762.0" width="3.6" height="1.25" fill="#2a2a2a"/>
<rect x="509.2" y="762.0" width="3.6" height="1.25" fill="#2a2a2a"/>
<rect x="441.65" y="780.5" width="4.2" height="1.7" fill="#000"/>
<rect x="458.2" y="780.8" width="3.6" height="1.25" fill="#2a2a2a"/>
<rect x="474.7" y="780.8" width="3.6" height="1.25" fill="#2a2a2a"/>
<text x="493.5" y="783.8" font-size="12.7" text-anchor="middle" font-weight="normal" fill="#2a2a2a" stroke="#2a2a2a" stroke-width="0.12" stroke-linejoin="round" >5</text>
<rect x="509.2" y="780.8" width="3.6" height="1.25" fill="#2a2a2a"/>
<rect x="441.65" y="799.7" width="4.2" height="1.7" fill="#000"/>
<rect x="458.2" y="800.0" width="3.6" height="1.25" fill="#2a2a2a"/>
<rect x="474.7" y="800.0" width="3.6" height="1.25" fill="#2a2a2a"/>
<rect x="491.7" y="800.0" width="3.6" height="1.25" fill="#2a2a2a"/>
<text x="511.0" y="803.0" font-size="12.7" text-anchor="middle" font-weight="normal" fill="#2a2a2a" stroke="#2a2a2a" stroke-width="0.12" stroke-linejoin="round" >5</text>
<polyline points="437.5,808.6 437.5,814.5 517.5,814.5 517.5,808.6" fill="none" stroke="#222" stroke-width="1.0"/>
<text transform="translate(476.6,831.5) scale(1.03,1)" font-size="14.6" text-anchor="middle" font-weight="normal" fill="#000" stroke="#000" stroke-width="0.25" stroke-linejoin="round" >TNF-&#945;</text>
</svg>
</body>
</html>
